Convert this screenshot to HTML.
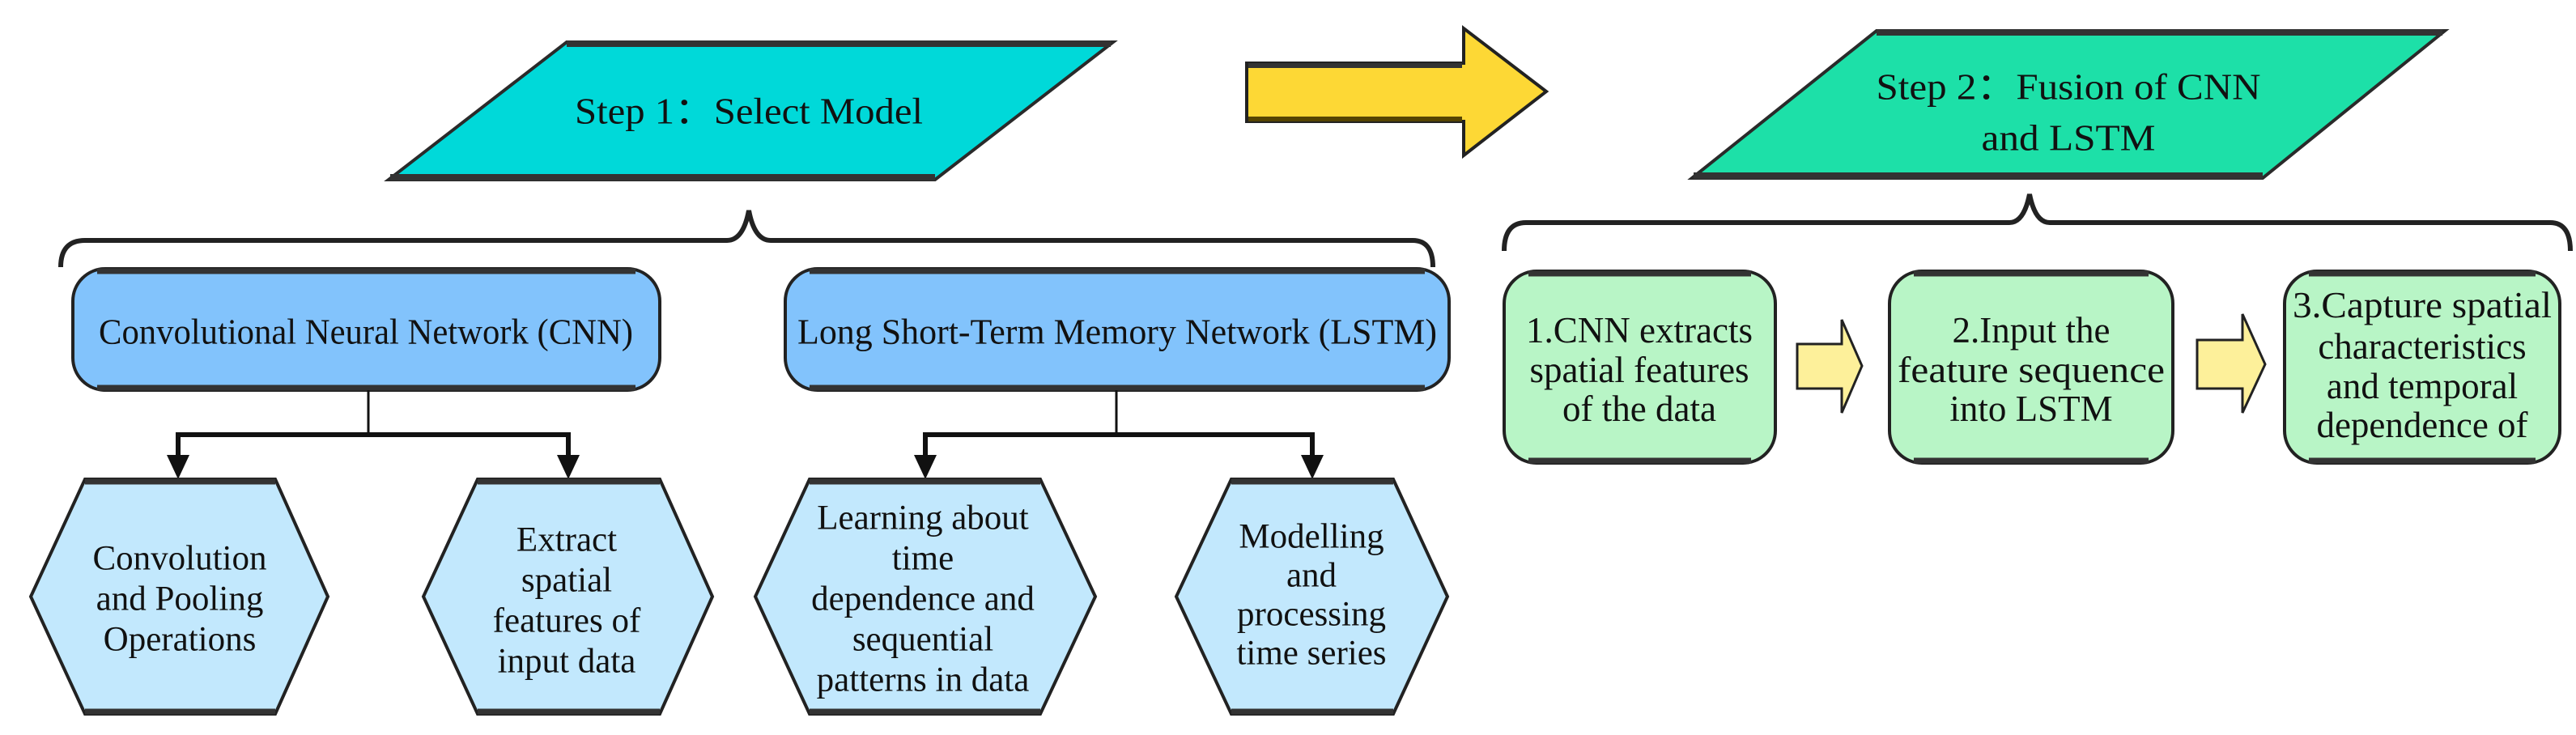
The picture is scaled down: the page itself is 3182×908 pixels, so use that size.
<!DOCTYPE html>
<html><head><meta charset="utf-8"><style>
html,body{margin:0;padding:0;background:#fff;}
svg{display:block;}
text{font-family:"Liberation Serif","DejaVu Serif",serif;fill:#111;}
</style></head><body>
<svg width="3182" height="908" viewBox="0 0 3182 908" xmlns="http://www.w3.org/2000/svg">
<!-- Step 1 parallelogram -->
<polygon points="700,52 1375,52 1155,222 480,222" fill="#00d9d9" stroke="#2a2a2a" stroke-width="4"/>
<line x1="700" y1="54" x2="1372" y2="54" stroke="#333" stroke-width="8"/>
<line x1="482" y1="219" x2="1155" y2="219" stroke="#333" stroke-width="8"/>
<text x="925" y="137" font-size="46" text-anchor="middle" dominant-baseline="central" textLength="430" lengthAdjust="spacingAndGlyphs">Step 1：Select Model</text>

<!-- Yellow arrow -->
<polygon points="1540,78 1808,78 1808,35 1910,113 1808,192 1808,150 1540,150" fill="#fdd835" stroke="#222" stroke-width="4"/>
<line x1="1542" y1="81" x2="1806" y2="81" stroke="#333" stroke-width="6"/>
<line x1="1542" y1="147" x2="1806" y2="147" stroke="#554400" stroke-width="6"/>

<!-- Step 2 parallelogram -->
<polygon points="2318,38 3020,38 2795,220 2090,220" fill="#1de0a8" stroke="#2a2a2a" stroke-width="4"/>
<line x1="2318" y1="40" x2="3017" y2="40" stroke="#333" stroke-width="8"/>
<line x1="2092" y1="217" x2="2795" y2="217" stroke="#333" stroke-width="8"/>
<text x="2555" y="107" font-size="46" text-anchor="middle" dominant-baseline="central" textLength="475" lengthAdjust="spacingAndGlyphs">Step 2：Fusion of CNN</text>
<text x="2555" y="170" font-size="46" text-anchor="middle" dominant-baseline="central" textLength="215" lengthAdjust="spacingAndGlyphs">and LSTM</text>

<!-- Braces -->
<path d="M75,330 Q75,297 105,297 L898,297 Q918,297 925,260 Q932,297 952,297 L1745,297 Q1770,297 1770,330" fill="none" stroke="#222" stroke-width="6"/>
<path d="M1858,310 Q1858,275 1885,275 L2482,275 Q2500,275 2507,240 Q2514,275 2532,275 L3150,275 Q3175,275 3175,310" fill="none" stroke="#222" stroke-width="6"/>

<!-- CNN / LSTM boxes -->
<rect x="90" y="332" width="725" height="150" rx="40" fill="#82c3fc" stroke="#222" stroke-width="4"/>
<line x1="120" y1="335" x2="785" y2="335" stroke="#333" stroke-width="7"/>
<line x1="120" y1="479" x2="785" y2="479" stroke="#333" stroke-width="7"/>
<text x="452" y="410" font-size="44" text-anchor="middle" dominant-baseline="central" textLength="660" lengthAdjust="spacingAndGlyphs">Convolutional Neural Network (CNN)</text>
<rect x="970" y="332" width="820" height="150" rx="40" fill="#82c3fc" stroke="#222" stroke-width="4"/>
<line x1="1000" y1="335" x2="1760" y2="335" stroke="#333" stroke-width="7"/>
<line x1="1000" y1="479" x2="1760" y2="479" stroke="#333" stroke-width="7"/>
<text x="1380" y="410" font-size="44" text-anchor="middle" dominant-baseline="central" textLength="790" lengthAdjust="spacingAndGlyphs">Long Short-Term Memory Network (LSTM)</text>

<!-- Connectors -->
<g stroke="#111" fill="none">
<line x1="455" y1="482" x2="455" y2="537" stroke-width="3"/>
<polyline points="220,568 220,537 702,537 702,568" stroke-width="6"/>
<line x1="1379" y1="482" x2="1379" y2="537" stroke-width="3"/>
<polyline points="1143,568 1143,537 1621,537 1621,568" stroke-width="6"/>
</g>
<g fill="#111">
<polygon points="206,562 234,562 220,592"/>
<polygon points="688,562 716,562 702,592"/>
<polygon points="1129,562 1157,562 1143,592"/>
<polygon points="1607,562 1635,562 1621,592"/>
</g>

<!-- Hexagons -->
<g fill="#c2e8fd" stroke="#222" stroke-width="4">
<polygon points="105,592 340,592 405,737 340,882 105,882 38,737"/>
<polygon points="590,592 815,592 880,737 815,882 590,882 523,737"/>
<polygon points="1000,592 1285,592 1353,737 1285,882 1000,882 933,737"/>
<polygon points="1521,592 1721,592 1788,737 1721,882 1521,882 1453,737"/>
</g>
<g stroke="#333" stroke-width="7">
<line x1="105" y1="595" x2="340" y2="595"/><line x1="105" y1="879" x2="340" y2="879"/>
<line x1="590" y1="595" x2="815" y2="595"/><line x1="590" y1="879" x2="815" y2="879"/>
<line x1="1000" y1="595" x2="1285" y2="595"/><line x1="1000" y1="879" x2="1285" y2="879"/>
<line x1="1521" y1="595" x2="1721" y2="595"/><line x1="1521" y1="879" x2="1721" y2="879"/>
</g>
<g font-size="43" text-anchor="middle" dominant-baseline="central">
<text x="222" y="690">Convolution</text>
<text x="222" y="740">and Pooling</text>
<text x="222" y="790">Operations</text>
<text x="700" y="667">Extract</text>
<text x="700" y="717">spatial</text>
<text x="700" y="767">features of</text>
<text x="700" y="817">input data</text>
<text x="1140" y="640">Learning about</text>
<text x="1140" y="690">time</text>
<text x="1140" y="740">dependence and</text>
<text x="1140" y="790">sequential</text>
<text x="1140" y="840">patterns in data</text>
<text x="1620" y="663">Modelling</text>
<text x="1620" y="711">and</text>
<text x="1620" y="759">processing</text>
<text x="1620" y="807">time series</text>
</g>

<!-- Green boxes -->
<g fill="#b8f5c6" stroke="#222" stroke-width="4">
<rect x="1858" y="335" width="335" height="237" rx="40"/>
<rect x="2334" y="335" width="350" height="237" rx="40"/>
<rect x="2822" y="335" width="340" height="237" rx="40"/>
</g>
<g stroke="#333" stroke-width="7">
<line x1="1888" y1="338" x2="2163" y2="338"/><line x1="1888" y1="569" x2="2163" y2="569"/>
<line x1="2364" y1="338" x2="2654" y2="338"/><line x1="2364" y1="569" x2="2654" y2="569"/>
<line x1="2852" y1="338" x2="3132" y2="338"/><line x1="2852" y1="569" x2="3132" y2="569"/>
</g>
<!-- small arrows -->
<g fill="#fdf09a" stroke="#222" stroke-width="3">
<polygon points="2220,425 2275,425 2275,395 2300,452 2275,510 2275,480 2220,480"/>
<polygon points="2714,420 2770,420 2770,388 2798,450 2770,510 2770,480 2714,480"/>
</g>
<g font-size="45" text-anchor="middle" dominant-baseline="central">
<text x="2025" y="408">1.CNN extracts</text>
<text x="2025" y="457">spatial features</text>
<text x="2025" y="505">of the data</text>
<text x="2509" y="408">2.Input the</text>
<text x="2509" y="457" textLength="330" lengthAdjust="spacingAndGlyphs">feature sequence</text>
<text x="2509" y="505">into LSTM</text>
<text x="2992" y="377" textLength="320" lengthAdjust="spacingAndGlyphs">3.Capture spatial</text>
<text x="2992" y="428">characteristics</text>
<text x="2992" y="477">and temporal</text>
<text x="2992" y="525">dependence of</text>
</g>
</svg>
</body></html>
